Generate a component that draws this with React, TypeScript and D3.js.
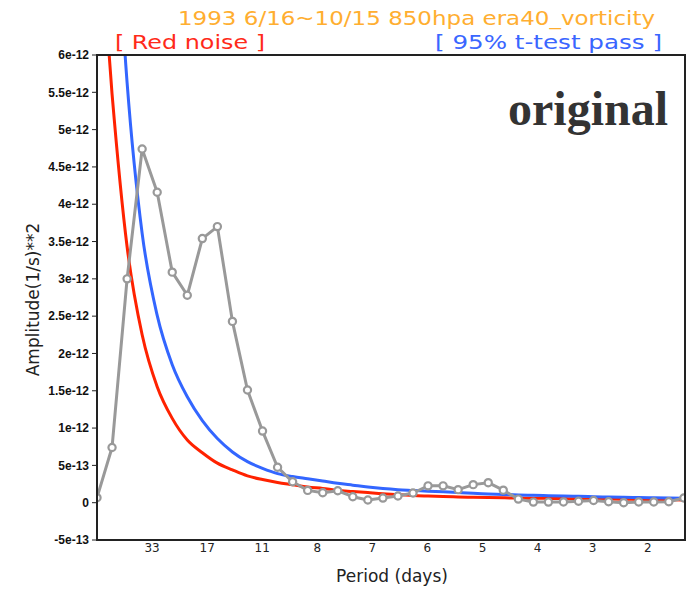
import * as d3 from "d3";

// harmonic k = 0..39 over a 122-day record (frequency = k / 122 cycles per day)
const recordDays = 122;

// gray spectrum, (1/s)**2
const amplitude = [
  0.067e-12, 0.74e-12, 3.0e-12, 4.74e-12, 4.16e-12, 3.09e-12, 2.78e-12, 3.54e-12,
  3.7e-12, 2.43e-12, 1.51e-12, 0.96e-12, 0.475e-12, 0.28e-12, 0.165e-12, 0.134e-12,
  0.16e-12, 0.08e-12, 0.036e-12, 0.062e-12, 0.09e-12, 0.13e-12, 0.226e-12, 0.226e-12,
  0.175e-12, 0.242e-12, 0.268e-12, 0.168e-12, 0.048e-12, 0.008e-12, 0.008e-12, 0.01e-12,
  0.02e-12, 0.03e-12, 0.013e-12, 0.0, 0.01e-12, 0.01e-12, 0.013e-12, 0.063e-12,
];

// red noise, from k = 0
const redNoise = [
  8.2e-12, 5.48e-12, 3.43e-12, 2.25e-12, 1.555e-12, 1.13e-12, 0.84e-12, 0.67e-12,
  0.53e-12, 0.44e-12, 0.36e-12, 0.31e-12, 0.27e-12, 0.24e-12, 0.21e-12, 0.19e-12,
  0.165e-12, 0.15e-12, 0.135e-12, 0.12e-12, 0.11e-12, 0.097e-12, 0.089e-12, 0.082e-12,
  0.077e-12, 0.072e-12, 0.068e-12, 0.065e-12, 0.062e-12, 0.06e-12, 0.058e-12, 0.055e-12,
  0.052e-12, 0.05e-12, 0.048e-12, 0.046e-12, 0.043e-12, 0.041e-12, 0.039e-12, 0.037e-12,
];

// 95% t-test line, from k = 1
const passLine = [
  8.9e-12, 5.63e-12, 3.61e-12, 2.51e-12, 1.85e-12, 1.42e-12, 1.1e-12, 0.86e-12,
  0.68e-12, 0.55e-12, 0.46e-12, 0.39e-12, 0.35e-12, 0.32e-12, 0.29e-12, 0.26e-12,
  0.235e-12, 0.21e-12, 0.19e-12, 0.175e-12, 0.165e-12, 0.155e-12, 0.145e-12, 0.135e-12,
  0.125e-12, 0.118e-12, 0.11e-12, 0.104e-12, 0.099e-12, 0.094e-12, 0.09e-12, 0.085e-12,
  0.08e-12, 0.076e-12, 0.072e-12, 0.068e-12, 0.065e-12, 0.062e-12, 0.059e-12,
];

const periodLabels = ["33", "17", "11", "8", "7", "6", "5", "4", "3", "2"];
const periodFreqs = [0.03, 0.06, 0.09, 0.12, 0.15, 0.18, 0.21, 0.24, 0.27, 0.3];

const yTicks = [6e-12, 5.5e-12, 5e-12, 4.5e-12, 4e-12, 3.5e-12, 3e-12, 2.5e-12, 2e-12, 1.5e-12, 1e-12, 5e-13, 0, -5e-13];
const yTickLabels = ["6e-12", "5.5e-12", "5e-12", "4.5e-12", "4e-12", "3.5e-12", "3e-12", "2.5e-12", "2e-12", "1.5e-12", "1e-12", "5e-13", "0", "-5e-13"];

const W = 688;
const H = 589;
const plot = { left: 97, right: 685, top: 55, bottom: 540 };

export default function App() {
  const x = d3.scaleLinear().domain([0, 0.3203]).range([plot.left, plot.right]);
  const y = d3.scaleLinear().domain([-5e-13, 6e-12]).range([plot.bottom, plot.top]);

  const line = d3
    .line<[number, number]>()
    .x((d) => x(d[0] / recordDays))
    .y((d) => y(d[1]));
  const smooth = d3
    .line<[number, number]>()
    .x((d) => x(d[0] / recordDays))
    .y((d) => y(d[1]))
    .curve(d3.curveMonotoneX);

  const ampPts: [number, number][] = amplitude.map((v, k) => [k, v]);
  const redPts: [number, number][] = redNoise.map((v, k) => [k, v]);
  const bluePts: [number, number][] = passLine.map((v, i) => [i + 1, v]);

  const hershey = "'DejaVu Sans', 'Liberation Sans', sans-serif";

  return (
    <svg width={W} height={H} style={{ position: "absolute", left: 0, top: 0, background: "#fff" }}>
      <defs>
        <clipPath id="plotclip">
          <rect x={plot.left} y={plot.top} width={plot.right - plot.left} height={plot.bottom - plot.top} />
        </clipPath>
      </defs>

      {/* titles */}
      <text x={178} y={25} fill="#ffae30" fontFamily={hershey} fontSize={20} textLength={477} lengthAdjust="spacingAndGlyphs">
        1993 6/16~10/15 850hpa era40_vorticity
      </text>
      <text x={115} y={49} fill="#ff2a1a" fontFamily={hershey} fontSize={20} textLength={150} lengthAdjust="spacingAndGlyphs">
        [ Red noise ]
      </text>
      <text x={435} y={49} fill="#3a66ff" fontFamily={hershey} fontSize={20} textLength={227} lengthAdjust="spacingAndGlyphs">
        [ 95% t-test pass ]
      </text>

      <text x={668} y={125} textAnchor="end" fill="#333" fontFamily="'Liberation Serif', serif" fontWeight="bold" fontSize={48}>
        original
      </text>

      {/* curves */}
      <g clipPath="url(#plotclip)" fill="none" strokeLinejoin="round">
        <path d={smooth(redPts) ?? ""} stroke="#ff2200" strokeWidth={3} />
        <path d={smooth(bluePts) ?? ""} stroke="#3366ff" strokeWidth={3} />
        <path d={line(ampPts) ?? ""} stroke="#999" strokeWidth={3} />
        {ampPts.map(([k, v]) => (
          <circle key={k} cx={x(k / recordDays)} cy={y(v)} r={3.6} fill="#fff" stroke="#999" strokeWidth={2.2} />
        ))}
      </g>

      {/* frame */}
      <rect
        x={plot.left}
        y={plot.top}
        width={plot.right - plot.left}
        height={plot.bottom - plot.top}
        fill="none"
        stroke="#222"
        strokeWidth={2}
      />

      {/* y axis */}
      {yTicks.map((t, i) => (
        <g key={i}>
          <line x1={plot.left - 5} x2={plot.left} y1={y(t)} y2={y(t)} stroke="#222" strokeWidth={1} />
          <text
            x={plot.left - 8}
            y={y(t)}
            dy="0.35em"
            textAnchor="end"
            fontFamily="'Liberation Sans', sans-serif"
            fontWeight="bold"
            fontSize={12}
            fill="#111"
          >
            {yTickLabels[i]}
          </text>
        </g>
      ))}
      <text
        transform={`translate(39,${(plot.top + plot.bottom) / 2 + 2}) rotate(-90)`}
        textAnchor="middle"
        fontFamily={hershey}
        fontSize={17}
        fill="#222"
      >
        Amplitude(1/s)**2
      </text>

      {/* x axis */}
      {periodFreqs.map((f, i) => (
        <text
          key={i}
          x={x(f)}
          y={552}
          textAnchor="middle"
          fontFamily={hershey}
          fontSize={12}
          fill="#222"
        >
          {periodLabels[i]}
        </text>
      ))}
      <text x={392} y={582} textAnchor="middle" fontFamily={hershey} fontSize={17} fill="#222">
        Period (days)
      </text>
    </svg>
  );
}
